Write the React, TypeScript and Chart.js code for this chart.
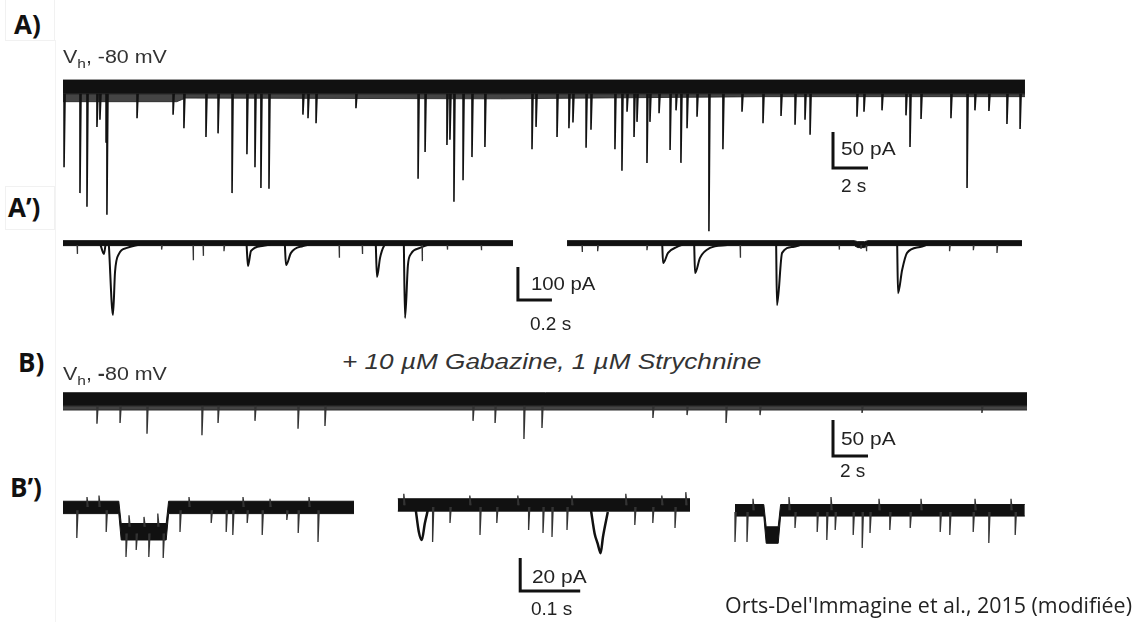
import React, { useEffect, useRef } from "react";
import { Chart, registerables } from "chart.js";
Chart.register(...registerables);

type P = [number, number];
type B3 = [number, number, number];

// ---------- Panel A : Vh -80 mV, time (s) / current (pA) ----------
const A_SPIKES: P[] = [
  [0.06, -110], [0.97, -146], [1.37, -165], [1.94, -54], [2.11, -44], [2.46, -76], [2.51, -176],
  [4.23, -42], [6.29, -37], [6.91, -56], [8.17, -68], [8.86, -63], [9.66, -146], [10.51, -92],
  [10.97, -110], [11.31, -139], [11.77, -140], [13.71, -37], [14.0, -42], [14.46, -49], [16.74, -28],
  [20.29, -126], [20.69, -89], [21.94, -79], [22.11, -72], [22.34, -158], [22.86, -128], [23.37, -96],
  [24.11, -82], [26.8, -85], [27.03, -54], [28.23, -68], [28.91, -56], [29.14, -48], [29.89, -83],
  [30.17, -58], [31.54, -85], [31.94, -115], [32.23, -33], [32.63, -68], [32.8, -47], [33.37, -104],
  [33.54, -47], [34.06, -35], [34.69, -86], [35.03, -31], [35.31, -104], [35.66, -56], [36.23, -40],
  [36.91, -199], [37.71, -85], [38.8, -33], [40.0, -49], [41.03, -39], [41.83, -51], [42.4, -44],
  [42.69, -65], [45.37, -40], [45.77, -33], [46.8, -31], [48.17, -38], [48.4, -82], [49.03, -43],
  [50.74, -42], [51.66, -139], [52.11, -31], [52.91, -32], [53.94, -50], [54.69, -57],
];
const A_BAND: B3[] = [[0, 11, -8], [54.97, 11, -8]];
const A_FRINGE: B3[] = [[0, -8, -19], [6.5, -8, -19], [7.0, -8, -14], [25, -8, -15], [40, -8, -12], [54.97, -8, -12]];
const A_SCALE = { t: 44.0, i: -111.1, dt: 2, di: 50 };

// ---------- Panel A' : zoom, two segments ----------
const A1_EVENTS: P[][] = [
  [[0.22, -5], [0.241, -33], [0.25, -5]],
  [[0.27, -8], [0.294, -218], [0.306, -88], [0.329, -33], [0.376, -15], [0.45, -5]],
  [[1.08, -5], [1.088, -70], [1.106, -24], [1.171, -9], [1.22, -5]],
  [[1.305, -5], [1.312, -67], [1.341, -30], [1.412, -9], [1.45, -5]],
  [[1.84, -5], [1.847, -103], [1.865, -45], [1.888, -9], [1.9, -5]],
  [[2.005, -5], [2.012, -227], [2.029, -67], [2.047, -33], [2.1, -15], [2.15, -5]],
];
const A1_SPIKES: P[] = [
  [0.083, -33], [0.58, -20], [0.765, -52], [0.824, -39], [0.947, -25], [1.624, -45], [1.76, -33],
  [2.112, -55], [2.26, -20], [2.46, -22],
];
const A1_BAND: B3[] = [[0, 7, -8], [2.647, 7, -8]];
const A2_EVENTS: P[][] = [
  [[0.56, -5], [0.565, -61], [0.594, -30], [0.647, -12], [0.68, -5]],
  [[0.748, -5], [0.753, -91], [0.782, -45], [0.841, -15], [0.941, -6]],
  [[1.23, -5], [1.235, -188], [1.265, -30], [1.329, -12], [1.38, -5]],
  [[1.942, -5], [1.947, -152], [1.971, -82], [2.0, -30], [2.076, -12], [2.12, -5]],
];
const A2_SPIKES: P[] = [
  [0.088, -27], [0.18, -25], [0.47, -22], [1.018, -45], [1.6, -20], [1.729, -18], [1.76, -25], [2.25, -25],
  [2.39, -22], [2.529, -30],
];
const A2_BAND: B3[] = [[0, 7, -8], [1.69, 7, -8], [1.71, 4, -14], [1.75, 4, -14], [1.77, 7, -8], [2.676, 7, -8]];
const AP_SEG_START = [0, 2.965];
const AP_SCALE = { t: 2.676, i: -172.7, dt: 0.2, di: 100 };

// ---------- Panel B : Gabazine + Strychnine ----------
const B_SPIKES: P[] = [
  [1.94, -33], [3.26, -32], [4.8, -47], [7.94, -49], [8.86, -32], [10.97, -29], [13.43, -40],
  [14.97, -36], [23.43, -29], [24.69, -32], [26.34, -54], [27.37, -39], [33.71, -25], [35.66, -21],
  [37.89, -32], [39.83, -21], [45.66, -18], [52.51, -18],
];
const B_BAND: B3[] = [[0, 10, -8], [55.14, 10, -8]];
const B_FRINGE: B3[] = [[0, -8, -14], [55.14, -8, -14]];
const B_SCALE = { t: 44.0, i: -77.8, dt: 2, di: 50 };

// ---------- Panel B' : zoom, three segments ----------
const B1_BAND: B3[] = [
  [0, 3.5, -4], [0.093, 3.5, -4], [0.097, -10, -20], [0.172, -10, -20], [0.176, 3.5, -4], [0.485, 3.5, -4],
];
const B1_SPIKES: P[] = [
  [0.023, -18.8], [0.072, -15.2], [0.195, -15.2], [0.247, -9.7], [0.272, -15.2], [0.283, -17],
  [0.307, -9.7], [0.332, -17], [0.373, -7.9], [0.392, -15.8], [0.425, -21.2],
];
const B1_STEP_SPIKES: P[] = [[0.105, -30.3], [0.122, -26], [0.143, -30.3], [0.167, -30.9]];
const B1_STEP_UP: P[] = [[0.11, -5], [0.135, -6], [0.158, -4]];
const B1_UP: P[] = [[0.04, 6], [0.06, 7], [0.21, 6], [0.3, 6], [0.345, 5], [0.41, 6]];
const B2_BAND: B3[] = [[0, 5, -2.5], [0.487, 5, -2.5]];
const B2_EVENTS: P[][] = [
  [[0.03, -2], [0.035, -15], [0.04, -20], [0.045, -10], [0.05, -2]],
  [[0.322, -2], [0.328, -16], [0.333, -22], [0.338, -28], [0.342, -18], [0.35, -3]],
];
const B2_SPIKES: P[] = [
  [0.058, -21.2], [0.087, -9.7], [0.137, -17], [0.165, -9.7], [0.218, -13.9], [0.242, -15.8],
  [0.257, -18.2], [0.282, -13.9], [0.395, -10.9], [0.425, -9.7], [0.462, -12.7],
];
const B2_UP: P[] = [[0.01, 8], [0.12, 7], [0.2, 7], [0.29, 7], [0.38, 8], [0.44, 7], [0.48, 9]];
const B3_BAND: B3[] = [
  [0, 1.5, -5.5], [0.048, 1.5, -5.5], [0.052, -12, -22], [0.072, -12, -22], [0.076, 1.5, -5.5], [0.483, 1.5, -5.5],
];
const B3_SPIKES: P[] = [
  [0.0, -21.2], [0.02, -21.2], [0.1, -12.7], [0.137, -15.2], [0.153, -20], [0.167, -13.9],
  [0.197, -17], [0.212, -24.8], [0.225, -15.8], [0.258, -13.9], [0.292, -12.7], [0.342, -15.2],
  [0.358, -17], [0.397, -15.2], [0.423, -21.8], [0.467, -17],
];
const B3_UP: P[] = [[0.03, 5], [0.09, 6], [0.16, 6], [0.24, 5], [0.31, 5], [0.4, 5], [0.46, 5]];
const BP_SEG_START = [0, 0.558, 1.12];
const BP_SCALE = { t: 0.762, i: -50.9, dt: 0.1, di: 20 };

// ---------- helpers ----------
const INK = "#111111";
const FRINGE = "rgba(35,35,35,0.85)";

function band(path: B3[], off: number, color: string) {
  return [
    { data: path.map(([t, hi]) => ({ x: off + t, y: hi })), borderColor: color, borderWidth: 1, backgroundColor: color, fill: false, order: 5 },
    { data: path.map(([t, , lo]) => ({ x: off + t, y: lo })), borderColor: color, borderWidth: 1, backgroundColor: color, fill: "-1", order: 5 },
  ];
}
function spikes(list: P[], base: number, off: number, dt: number, w: number, color = INK) {
  const data: any[] = [];
  list.forEach(([t, p]) => {
    data.push({ x: off + t, y: base }, { x: off + t, y: p }, { x: off + t + dt, y: base }, { x: off + t + dt, y: null });
  });
  return { data, borderColor: color, borderWidth: w, fill: false, spanGaps: false, order: 1 };
}
function polys(list: P[][], off: number, w: number) {
  const data: any[] = [];
  list.forEach((ev) => {
    ev.forEach(([t, p]) => data.push({ x: off + t, y: p }));
    data.push({ x: off + ev[ev.length - 1][0] + 0.0001, y: null });
  });
  return { data, borderColor: INK, borderWidth: w, fill: false, spanGaps: false, cubicInterpolationMode: "monotone", order: 1 };
}
function scaleBar(s: { t: number; i: number; dt: number; di: number }) {
  return {
    data: [{ x: s.t, y: s.i + s.di }, { x: s.t, y: s.i }, { x: s.t + s.dt, y: s.i }],
    borderColor: INK, borderWidth: 3, fill: false, borderJoinStyle: "miter", borderCapStyle: "butt", order: 0,
  };
}

type PanelProps = { left: number; top: number; width: number; height: number; xMax: number; yMin: number; yMax: number; datasets: any[] };

function TracePanel({ left, top, width, height, xMax, yMin, yMax, datasets }: PanelProps) {
  const ref = useRef<HTMLCanvasElement>(null);
  useEffect(() => {
    if (!ref.current) return;
    const chart = new Chart(ref.current, {
      type: "line",
      data: { datasets },
      options: {
        animation: false,
        responsive: false,
        maintainAspectRatio: false,
        events: [],
        layout: { padding: 0 },
        elements: { point: { radius: 0 }, line: { tension: 0 } },
        plugins: { legend: { display: false }, tooltip: { enabled: false } },
        scales: {
          x: { type: "linear", display: false, min: 0, max: xMax },
          y: { type: "linear", display: false, min: yMin, max: yMax },
        },
      } as any,
    });
    return () => chart.destroy();
  }, []);
  return (
    <canvas ref={ref} width={width} height={height} style={{ position: "absolute", left, top, width, height }} />
  );
}

const txt = (left: number, top: number, content: React.ReactNode, style: React.CSSProperties = {}, sx = 1) => (
  <div style={{ position: "absolute", left, top, transform: `translateY(-50%) scaleX(${sx})`, transformOrigin: "left center", whiteSpace: "nowrap", lineHeight: 1, ...style }}>{content}</div>
);

const ARIAL = "'Liberation Sans', Arial, sans-serif";
const LABEL: React.CSSProperties = { fontFamily: "'Open Sans', Lato, sans-serif", fontWeight: 700, fontSize: 26, color: "#111" };
const SCALE_TXT: React.CSSProperties = { fontFamily: ARIAL, fontSize: 19, color: "#222" };
const VH: React.CSSProperties = { fontFamily: ARIAL, fontSize: 18, color: "#333" };
const SUB: React.CSSProperties = { fontSize: 13, verticalAlign: -5 };

export default function App() {
  const aDs = [
    ...band(A_FRINGE, 0, FRINGE),
    ...band(A_BAND, 0, INK),
    spikes(A_SPIKES, -8, 0, 0.06, 1.6),
    scaleBar(A_SCALE),
  ];
  const apDs = [
    ...band(A1_BAND, AP_SEG_START[0], INK),
    ...band(A2_BAND, AP_SEG_START[1], INK),
    spikes(A1_SPIKES, -6, AP_SEG_START[0], 0.004, 1.3, "#333"),
    spikes(A2_SPIKES, -6, AP_SEG_START[1], 0.004, 1.3, "#333"),
    polys(A1_EVENTS, AP_SEG_START[0], 2),
    polys(A2_EVENTS, AP_SEG_START[1], 2),
    scaleBar(AP_SCALE),
  ];
  const bDs = [
    ...band(B_FRINGE, 0, FRINGE),
    ...band(B_BAND, 0, INK),
    spikes(B_SPIKES, -8, 0, 0.06, 1.4, "#333"),
    scaleBar(B_SCALE),
  ];
  const bpDs = [
    ...band(B1_BAND, BP_SEG_START[0], INK),
    ...band(B2_BAND, BP_SEG_START[1], INK),
    ...band(B3_BAND, BP_SEG_START[2], INK),
    spikes(B1_SPIKES, -2, BP_SEG_START[0], 0.002, 1.3, "#333"),
    spikes(B1_STEP_SPIKES, -16, BP_SEG_START[0], 0.002, 1.3, "#333"),
    spikes(B1_STEP_UP, -12, BP_SEG_START[0], 0.002, 1.3, "#333"),
    spikes(B1_UP, 0, BP_SEG_START[0], 0.002, 1.3, "#333"),
    spikes(B2_SPIKES, 0, BP_SEG_START[1], 0.002, 1.3, "#333"),
    spikes(B2_UP, 1, BP_SEG_START[1], 0.002, 1.3, "#333"),
    spikes(B3_SPIKES, -3, BP_SEG_START[2], 0.002, 1.3, "#333"),
    spikes(B3_UP, -2, BP_SEG_START[2], 0.002, 1.3, "#333"),
    polys(B2_EVENTS, BP_SEG_START[1], 2.5),
    scaleBar(BP_SCALE),
  ];

  return (
    <div style={{ position: "absolute", left: 0, top: 0, width: 1141, height: 622, background: "#fff", overflow: "hidden" }}>
      <div style={{ position: "absolute", left: 5, top: 0, width: 48, height: 40, border: "1px solid #f1f1f1", borderTop: "none" }} />
      <div style={{ position: "absolute", left: 5, top: 186, width: 48, height: 42, border: "1px solid #f1f1f1" }} />
      <div style={{ position: "absolute", left: 55, top: 40, width: 1, height: 582, background: "#f3f3f3" }} />

      <TracePanel left={63} top={60} width={964} height={190} xMax={964 / 17.5} yMin={-225} yMax={38.9} datasets={aDs} />
      <TracePanel left={63} top={215} width={964} height={110} xMax={964 / 170} yMin={-248.5} yMax={84.8} datasets={apDs} />
      <TracePanel left={63} top={375} width={964} height={105} xMax={964 / 17.5} yMin={-111.1} yMax={34.7} datasets={bDs} />
      <TracePanel left={63} top={478} width={964} height={122} xMax={964 / 600} yMin={-56.4} yMax={17.6} datasets={bpDs} />

      {txt(14, 24, "A)", LABEL)}
      {txt(8, 207, "A’)", LABEL)}
      {txt(18, 362, "B)", LABEL)}
      {txt(10, 487, "B’)", LABEL)}

      {txt(63, 59, <span>V<sub style={SUB}>h</sub>, -80 mV</span>, VH, 1.19)}
      {txt(63, 376, <span>V<sub style={SUB}>h</sub>, <b>-</b>80 mV</span>, VH, 1.19)}
      {txt(342, 362, "+ 10 µM Gabazine, 1 µM Strychnine", { fontFamily: ARIAL, fontStyle: "italic", fontSize: 22, color: "#333" }, 1.19)}

      {txt(841, 148, "50 pA", SCALE_TXT, 1.1)}
      {txt(841, 185, "2 s", SCALE_TXT)}
      {txt(531, 283, "100 pA", SCALE_TXT, 1.07)}
      {txt(530, 323, "0.2 s", SCALE_TXT)}
      {txt(841, 438, "50 pA", SCALE_TXT, 1.1)}
      {txt(840, 470, "2 s", SCALE_TXT)}
      {txt(532, 576, "20 pA", SCALE_TXT, 1.1)}
      {txt(531, 608, "0.1 s", SCALE_TXT)}

      {txt(725, 605, "Orts-Del'Immagine et al., 2015 (modifiée)", { fontFamily: "'Open Sans', Lato, sans-serif", fontSize: 21.4, color: "#222" })}
    </div>
  );
}
